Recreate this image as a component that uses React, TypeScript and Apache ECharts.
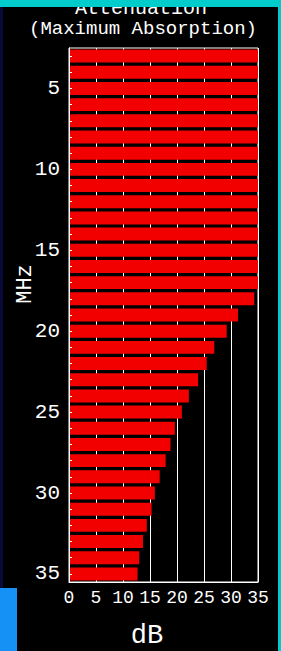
import React, { useEffect, useRef } from "react";
import * as echarts from "echarts";

const frequencies = ["3","4","5","6","7","8","9","10","11","12","13","14","15","16","17","18","19","20","21","22","23","24","25","26","27","28","29","30","31","32","33","34","35"];
const attenuation = [35,35,35,35,35,35,35,35,35,35,35,35,35,35,35,34.3,31.3,29.2,26.9,25.5,23.9,22.2,20.9,19.6,18.8,17.9,16.8,15.9,15.3,14.4,13.7,13.0,12.7];
const titleLine1 = "Attenuation";
const titleLine2 = "(Maximum Absorption)";
const xName = "dB";
const yName = "MHz";

const FONT = "Liberation Mono";

export default function App() {
  const ref = useRef<HTMLDivElement>(null);
  useEffect(() => {
    document.body.style.margin = "0";
    const chart = echarts.init(ref.current!, null, { renderer: "svg" });
    chart.setOption({
      animation: false,
      backgroundColor: "#000",
      grid: {
        left: 69, top: 48, width: 189, height: 534,
        show: true, borderColor: "#fff", borderWidth: 1, backgroundColor: "transparent",
        containLabel: false,
      },
      xAxis: {
        type: "value", min: 0, max: 35, interval: 5,
        axisLine: { show: true, lineStyle: { color: "#fff", width: 1 } },
        axisTick: { show: false },
        splitLine: { show: true, lineStyle: { color: "#fff", width: 1 } },
        axisLabel: { color: "#fff", fontFamily: FONT, fontSize: 18, margin: 7 },
      },
      yAxis: {
        type: "category", data: frequencies, inverse: true, z: 3,
        axisLine: { show: true, lineStyle: { color: "#fff", width: 1 } },
        axisTick: { show: true, inside: true, length: 3, alignWithLabel: true, interval: 0, lineStyle: { color: "#fff" } },
        splitLine: { show: false },
        axisLabel: {
          color: "#fff", fontFamily: FONT, fontSize: 21, margin: 9,
          interval: (_i: number, v: string) => Number(v) % 5 === 0,
        },
      },
      series: [{
        type: "bar", data: attenuation, barCategoryGap: "20%",
        itemStyle: { color: "#f20000" },
      }],
      graphic: [
        { type: "text", x: 141, y: 8, style: { text: titleLine1, fill: "#fff", font: `20px "${FONT}"`, align: "center", verticalAlign: "middle" } },
        { type: "text", x: 143, y: 29, style: { text: titleLine2, fill: "#fff", font: `19px "${FONT}"`, align: "center", verticalAlign: "middle" } },
        { type: "text", x: 25, y: 284, rotation: Math.PI / 2, style: { text: yName, fill: "#fff", font: `22px "${FONT}"`, align: "center", verticalAlign: "middle" } },
        { type: "text", x: 147, y: 636, style: { text: xName, fill: "#fff", font: `27px "${FONT}"`, align: "center", verticalAlign: "middle" } },
        { type: "rect", shape: { x: 0, y: 0, width: 281, height: 7 }, style: { fill: "#00cccc" }, z: 10 },
        { type: "rect", shape: { x: 278, y: 0, width: 3, height: 651 }, style: { fill: "#00cccc" }, z: 10 },
        { type: "rect", shape: { x: 0, y: 7, width: 3, height: 581 }, style: { fill: "#0a0a3a" }, z: 10 },
        { type: "rect", shape: { x: 0, y: 588, width: 17, height: 63 }, style: { fill: "#1590f5" }, z: 10 },
      ],
    });
    return () => chart.dispose();
  }, []);
  return <div ref={ref} style={{ width: 281, height: 651 }} />;
}
